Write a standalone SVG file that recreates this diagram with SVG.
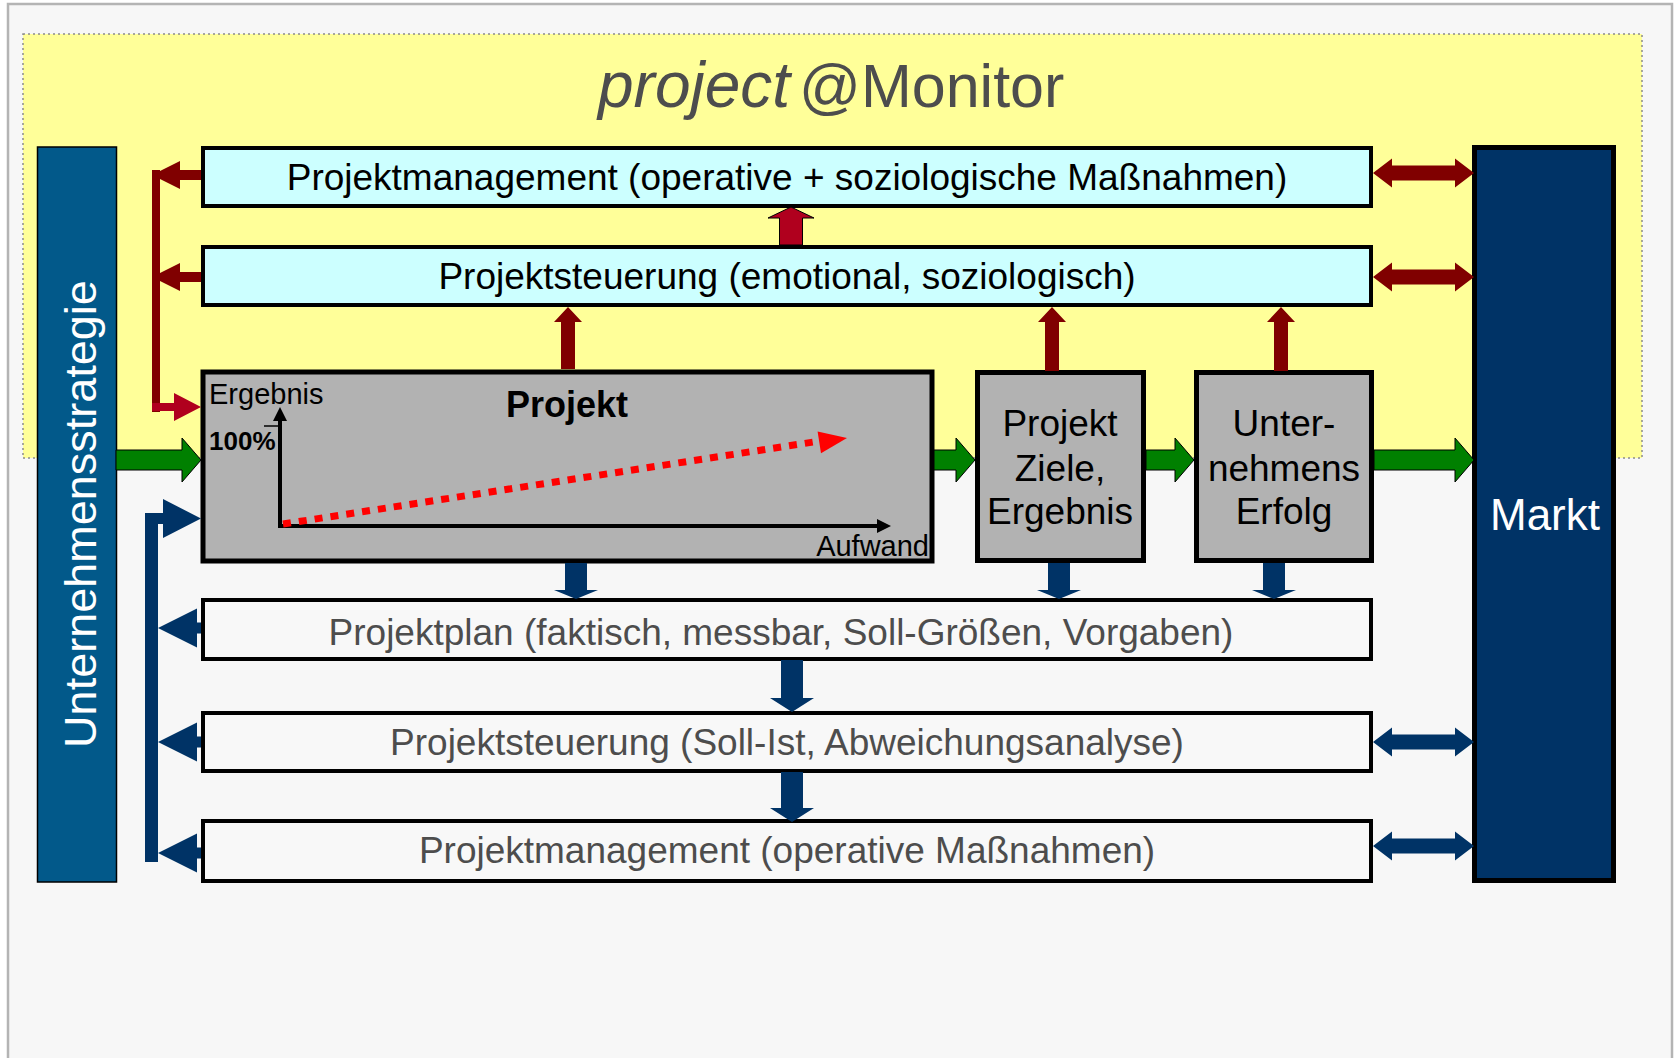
<svg xmlns="http://www.w3.org/2000/svg" width="1675" height="1058" viewBox="0 0 1675 1058">
<style>
text{font-family:"Liberation Sans",Arial,sans-serif}
.box{stroke:#000;stroke-width:4}
.cyan{fill:#ccffff}
.light{fill:#f8f8f8}
.grey{fill:#b2b2b2;stroke:#000;stroke-width:5}
.t37{font-size:37px;text-anchor:middle}
.dark{fill:#000}
.soft{fill:#4d4d4d}
.green{fill:#008000;stroke:#000;stroke-width:1}
.dred{fill:#800000}
.crim{fill:#b0001e}
.navy{fill:#003366}
</style>
<rect x="0" y="0" width="1675" height="1058" fill="#fff"/>
<rect x="8" y="4" width="1664" height="1080" fill="#f7f7f7" stroke="#b4b4b4" stroke-width="2.5"/>
<rect x="23" y="34" width="1619" height="424" fill="#ffff99" stroke="#8c8c8c" stroke-width="1.5" stroke-dasharray="2 3"/>
<text y="107" class="soft"><tspan x="598" font-size="64" font-style="italic">project</tspan><tspan x="799" font-size="61">@Monitor</tspan></text>

<g id="unternehmensstrategie">
<rect x="37.5" y="147" width="79" height="735" fill="#02598a" stroke="#000" stroke-width="1.5"/>
<text transform="translate(96,514) rotate(-90)" font-size="45" fill="#fff" text-anchor="middle">Unternehmensstrategie</text>
</g>
<g id="markt">
<rect x="1474.5" y="147.5" width="139" height="733" fill="#003366" stroke="#000" stroke-width="5"/>
<text x="1545" y="530" font-size="44" fill="#fff" text-anchor="middle">Markt</text>
</g>
<g id="pm-soz">
<rect class="box cyan" x="203" y="148" width="1168" height="58"/>
<text class="t37 dark" x="787" y="190">Projektmanagement (operative + soziologische Maßnahmen)</text>
</g>
<g id="ps-emo">
<rect class="box cyan" x="203" y="247" width="1168" height="58"/>
<text class="t37 dark" x="787" y="289">Projektsteuerung (emotional, soziologisch)</text>
</g>
<g id="projekt">
<rect class="grey" x="203" y="372" width="729" height="189"/>
<text x="567" y="417" font-size="36" font-weight="bold" text-anchor="middle">Projekt</text>
<text x="209" y="404" font-size="29">Ergebnis</text>
<text x="209" y="450" font-size="26" font-weight="bold">100%</text>
<text x="929" y="556" font-size="29" text-anchor="end">Aufwand</text>
<line x1="264" y1="426" x2="281" y2="426" stroke="#000" stroke-width="1.5"/>
<line x1="280" y1="528" x2="280" y2="418" stroke="#000" stroke-width="4"/>
<polygon points="280,407 287,421 273,421" fill="#000"/>
<line x1="278" y1="526" x2="880" y2="526" stroke="#000" stroke-width="4"/>
<polygon points="891,526 877,519 877,533" fill="#000"/>
<line x1="283" y1="524" x2="820" y2="441" stroke="#ff0000" stroke-width="7" stroke-dasharray="8 8"/>
<polygon points="847,438 817.6,431.4 821,453.2" fill="#ff0000"/>
</g>
<g id="ziele">
<rect class="grey" x="977.5" y="372.5" width="166" height="188"/>
<text class="t37 dark" x="1060" y="436">Projekt</text>
<text class="t37 dark" x="1060" y="481">Ziele,</text>
<text class="t37 dark" x="1060" y="524">Ergebnis</text>
</g>
<g id="erfolg">
<rect class="grey" x="1196.5" y="372.5" width="175" height="188"/>
<text class="t37 dark" x="1284" y="436">Unter-</text>
<text class="t37 dark" x="1284" y="481">nehmens</text>
<text class="t37 dark" x="1284" y="524">Erfolg</text>
</g>
<g id="projektplan">
<rect class="box light" x="203" y="600" width="1168" height="59"/>
<text class="t37 soft" x="781" y="645" font-size="37.5">Projektplan (faktisch, messbar, Soll-Größen, Vorgaben)</text>
</g>
<g id="ps-soll">
<rect class="box light" x="203" y="713" width="1168" height="58"/>
<text class="t37 soft" x="787" y="755">Projektsteuerung (Soll-Ist, Abweichungsanalyse)</text>
</g>
<g id="pm-op">
<rect class="box light" x="203" y="821" width="1168" height="60"/>
<text class="t37 soft" x="787" y="863">Projektmanagement (operative Maßnahmen)</text>
</g>

<g id="connectors">
<polygon class="green" points="116,450 182,450 182,438 201,460 182,482 182,470 116,470"/>
<polygon class="green" points="934,450 956,450 956,438 975,460 956,482 956,470 934,470"/>
<polygon class="green" points="1146,450 1175,450 1175,438 1194,460 1175,482 1175,470 1146,470"/>
<polygon class="green" points="1374,450 1455,450 1455,438 1474,460 1455,482 1455,470 1374,470"/>

<rect class="dred" x="152" y="170" width="8" height="242"/>
<polygon class="dred" points="201,170 180,170 180,161 152,175 180,189 180,180 201,180"/>
<polygon class="dred" points="201,272 180,272 180,263 152,277 180,291 180,282 201,282"/>
<polygon class="crim" points="152,403 174,403 174,393 201,407 174,421 174,411 152,411"/>

<polygon class="dred" points="561,369 561,322 554,322 568,307 582,322 575,322 575,369"/>
<polygon class="dred" points="1045,371 1045,322 1038,322 1052,307 1066,322 1059,322 1059,371"/>
<polygon class="dred" points="1274,371 1274,322 1267,322 1281,307 1295,322 1288,322 1288,371"/>
<polygon class="crim" stroke="#000" stroke-width="1" points="779.5,245 779.5,218 768,218 791,207 814,218 802.5,218 802.5,245"/>

<polygon class="dred" points="1373,173 1392,158.5 1392,165.5 1455,165.5 1455,158.5 1474,173 1455,187.5 1455,180.5 1392,180.5 1392,187.5"/>
<polygon class="dred" points="1373,277 1392,262.5 1392,269.5 1455,269.5 1455,262.5 1474,277 1455,291.5 1455,284.5 1392,284.5 1392,291.5"/>

<rect class="navy" x="145" y="513" width="13" height="349"/>
<polygon class="navy" points="145,513 163,513 163,499 201,518.5 163,538 163,524 145,524"/>
<polygon class="navy" points="201,622.5 197,622.5 197,608.5 158,628 197,647.5 197,633.5 201,633.5"/>
<polygon class="navy" points="201,736.5 197,736.5 197,722.5 158,742 197,761.5 197,747.5 201,747.5"/>
<polygon class="navy" points="201,847.5 197,847.5 197,833.5 158,853 197,872.5 197,858.5 201,858.5"/>

<polygon class="navy" points="565,563 587,563 587,590 598,590 576,599 554,590 565,590"/>
<polygon class="navy" points="1048,563 1070,563 1070,590 1081,590 1059,599 1037,590 1048,590"/>
<polygon class="navy" points="1263,563 1285,563 1285,590 1296,590 1274,599 1252,590 1263,590"/>
<polygon class="navy" points="781,660 803,660 803,698 814,698 792,712 770,698 781,698"/>
<polygon class="navy" points="781,772 803,772 803,808 814,808 792,822 770,808 781,808"/>

<polygon class="navy" points="1373,742 1392,727.5 1392,734.5 1455,734.5 1455,727.5 1474,742 1455,756.5 1455,749.5 1392,749.5 1392,756.5"/>
<polygon class="navy" points="1373,846 1392,831.5 1392,838.5 1455,838.5 1455,831.5 1474,846 1455,860.5 1455,853.5 1392,853.5 1392,860.5"/>
</g>
</svg>
